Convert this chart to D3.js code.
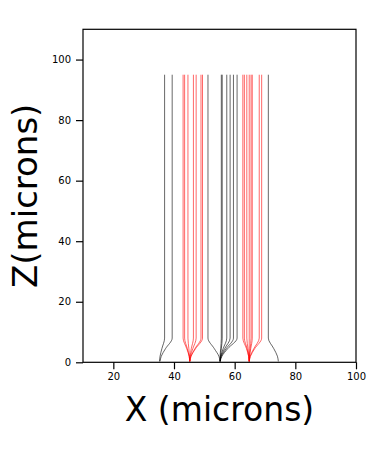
<!DOCTYPE html>
<html lang="en">
<head>
    <meta charset="UTF-8">
    <title>Drift paths</title>
    <script src="https://d3js.org/d3.v7.min.js"></script>
    <style>
        body {
            margin: 0;
            background: #fff;
        }
        text {
            font-family: 'DejaVu Sans', sans-serif;
        }
    </style>
</head>
<body>
<div id="chart"></div>
<script>
    // axis ticks
    var xTicks = [20, 40, 60, 80, 100];
    var zTicks = [0, 20, 40, 60, 80, 100];

    // drift trajectories, each a list of [x, z] points
    var blackPaths = [
        [[36.9, 95], [36.9, 8], [36.0, 4.5], [35.4, 2], [35.2, 0.3]],
        [[39.4, 95], [39.4, 8], [37.2, 4.5], [35.8, 2], [35.4, 0.3]],
        [[51.2, 95], [51.2, 8], [53.3, 4.5], [54.8, 2], [55.2, 0.3]],
        [[55.6, 95], [55.6, 8], [55.4, 4.5], [55.2, 2], [55.2, 0.3]],
        [[55.9, 95], [55.9, 8], [55.6, 4.5], [55.3, 2], [55.2, 0.3]],
        [[57.4, 95], [57.4, 8], [56.2, 4.5], [55.4, 2], [55.2, 0.3]],
        [[58.5, 95], [58.5, 8], [56.7, 4.5], [55.5, 2], [55.2, 0.3]],
        [[59.6, 95], [59.6, 8], [57.2, 4.5], [55.6, 2], [55.2, 0.3]],
        [[60.8, 95], [60.8, 8], [57.7, 4.5], [55.8, 2], [55.2, 0.3]],
        [[71.1, 95], [71.1, 8], [72.9, 4.5], [74.1, 2], [74.4, 0.3]]
    ];
    var redPaths = [
        [[43.0, 95], [43.0, 8], [44.2, 4.5], [45.0, 2], [45.2, 0.3]],
        [[43.5, 95], [43.5, 8], [44.4, 4.5], [45.0, 2], [45.2, 0.3]],
        [[44.6, 95], [44.6, 8], [44.9, 4.5], [45.1, 2], [45.2, 0.3]],
        [[46.4, 95], [46.4, 8], [45.7, 4.5], [45.3, 2], [45.2, 0.3]],
        [[47.3, 95], [47.3, 8], [46.2, 4.5], [45.4, 2], [45.2, 0.3]],
        [[48.9, 95], [48.9, 8], [46.9, 4.5], [45.6, 2], [45.2, 0.3]],
        [[49.4, 95], [49.4, 8], [47.1, 4.5], [45.6, 2], [45.2, 0.3]],
        [[62.7, 95], [62.7, 8], [63.9, 4.5], [64.6, 2], [64.8, 0.3]],
        [[63.2, 95], [63.2, 8], [64.1, 4.5], [64.6, 2], [64.8, 0.3]],
        [[64.0, 95], [64.0, 8], [64.4, 4.5], [64.7, 2], [64.8, 0.3]],
        [[64.8, 95], [64.8, 8], [64.8, 4.5], [64.8, 2], [64.8, 0.3]],
        [[65.4, 95], [65.4, 8], [65.1, 4.5], [64.9, 2], [64.8, 0.3]],
        [[65.8, 95], [65.8, 8], [65.3, 4.5], [64.9, 2], [64.8, 0.3]],
        [[68.1, 95], [68.1, 8], [66.3, 4.5], [65.1, 2], [64.8, 0.3]],
        [[68.9, 95], [68.9, 8], [66.6, 4.5], [65.2, 2], [64.8, 0.3]]
    ];

    var width = 373, height = 455;
    var margin = {left: 83, top: 29.3, right: 17, bottom: 92.7};

    var svg = d3.select("#chart").append("svg")
        .attr("width", width)
        .attr("height", height);

    var x = d3.scaleLinear().domain([10, 100]).range([margin.left, width - margin.right]);
    var y = d3.scaleLinear().domain([0, 110]).range([height - margin.bottom, margin.top]);

    // monotone in y keeps the straight vertical part, then bends near the bottom
    var line = d3.line()
        .x(d => x(d[0]))
        .y(d => y(d[1]))
        .curve(d3.curveMonotoneY);

    // trajectories
    svg.append("g").selectAll("path.black")
        .data(blackPaths)
        .enter().append("path")
        .attr("class", "black")
        .attr("d", line)
        .attr("fill", "none")
        .attr("stroke", "black")
        .attr("stroke-width", 0.6);

    svg.append("g").selectAll("path.red")
        .data(redPaths)
        .enter().append("path")
        .attr("class", "red")
        .attr("d", line)
        .attr("fill", "none")
        .attr("stroke", "red")
        .attr("stroke-width", 0.6);

    // frame
    svg.append("rect")
        .attr("x", x(10))
        .attr("y", y(110))
        .attr("width", x(100) - x(10))
        .attr("height", y(0) - y(110))
        .attr("fill", "none")
        .attr("stroke", "black")
        .attr("stroke-width", 1.2);

    // axes
    var xAxis = svg.append("g")
        .attr("transform", "translate(0," + y(0) + ")")
        .call(d3.axisBottom(x).tickValues(xTicks).tickSize(7).tickPadding(4));
    var yAxis = svg.append("g")
        .attr("transform", "translate(" + x(10) + ",0)")
        .call(d3.axisLeft(y).tickValues(zTicks).tickSize(7).tickPadding(5));

    [xAxis, yAxis].forEach(function (g) {
        g.select(".domain").remove();
        g.selectAll(".tick line").attr("stroke", "black").attr("stroke-width", 1.2);
        g.selectAll(".tick text")
            .attr("fill", "black")
            .style("font-family", "'DejaVu Sans', sans-serif")
            .style("font-size", "10px");
    });

    // axis labels
    svg.append("text")
        .attr("x", (x(10) + x(100)) / 2)
        .attr("y", 421)
        .attr("text-anchor", "middle")
        .style("font-size", "33px")
        .text("X (microns)");

    svg.append("text")
        .attr("transform", "translate(37," + (y(0) + y(110)) / 2 + ") rotate(-90)")
        .attr("text-anchor", "middle")
        .style("font-size", "34px")
        .text("Z(microns)");
</script>
</body>
</html>
